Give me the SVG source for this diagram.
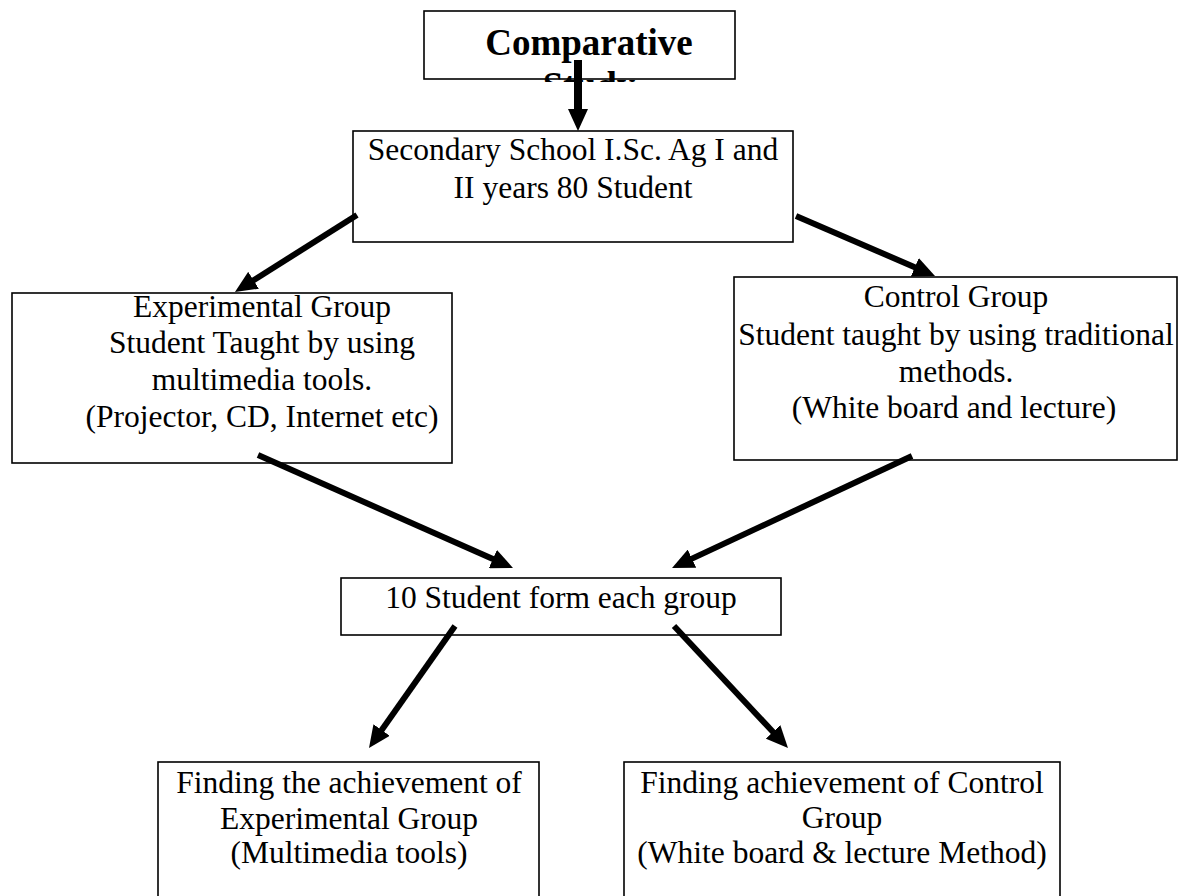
<svg xmlns="http://www.w3.org/2000/svg" width="1192" height="896" viewBox="0 0 1192 896">
<style>
.box{fill:#fff;stroke:#000;stroke-width:1.6}
.t{font-family:"Liberation Serif","Times New Roman",serif;font-size:31.5px;fill:#000;text-anchor:middle}
.tb{font-family:"Liberation Serif","Times New Roman",serif;font-size:37px;font-weight:bold;fill:#000;text-anchor:middle}
.c{stroke:#000;stroke-width:6;fill:none;marker-end:url(#ah)}
</style>
<defs>
<marker id="ah" viewBox="0 0 22 20" refX="10" refY="10" markerWidth="22" markerHeight="20" markerUnits="userSpaceOnUse" orient="auto">
<path d="M0,0 L22,10 L0,20 z" fill="#000"/>
</marker>
<clipPath id="clipStudy"><rect x="400" y="0" width="360" height="82"/></clipPath>
</defs>
<rect width="1192" height="896" fill="#fff"/>
<g id="node-comparative">
<rect class="box" x="424" y="11" width="311" height="68"/>
<text class="tb" x="589" y="55">Comparative</text>
<text class="tb" x="589" y="98" clip-path="url(#clipStudy)">Study</text>
</g>
<g id="node-secondary">
<rect class="box" x="353" y="131" width="440" height="111"/>
<text class="t" x="573" y="160">Secondary School I.Sc. Ag I and</text>
<text class="t" x="573" y="198">II years 80 Student</text>
</g>
<g id="node-experimental">
<rect class="box" x="12" y="293" width="440" height="170"/>
<text class="t" x="262" y="317">Experimental Group</text>
<text class="t" x="262" y="353">Student Taught by using</text>
<text class="t" x="262" y="390">multimedia tools.</text>
<text class="t" x="262" y="427">(Projector, CD, Internet etc)</text>
</g>
<g id="node-control">
<rect class="box" x="734" y="277" width="443" height="183"/>
<text class="t" x="956" y="307">Control Group</text>
<text class="t" x="956" y="345">Student taught by using traditional</text>
<text class="t" x="956" y="382">methods.</text>
<text class="t" x="954" y="418">(White board and lecture)</text>
</g>
<g id="node-ten">
<rect class="box" x="341" y="578" width="440" height="57"/>
<text class="t" x="561" y="608">10 Student form each group</text>
</g>
<g id="node-find-exp">
<rect class="box" x="158" y="762" width="381" height="150"/>
<text class="t" x="349" y="793">Finding the achievement of</text>
<text class="t" x="349" y="829">Experimental Group</text>
<text class="t" x="349" y="863">(Multimedia tools)</text>
</g>
<g id="node-find-ctrl">
<rect class="box" x="624" y="762" width="436" height="150"/>
<text class="t" x="842" y="793">Finding achievement of Control</text>
<text class="t" x="842" y="828">Group</text>
<text class="t" x="842" y="863">(White board &amp; lecture Method)</text>
</g>
<g id="connectors">
<line class="c" style="stroke-width:8" x1="578" y1="60" x2="578" y2="119"/>
<line class="c" x1="357" y1="215" x2="245.1" y2="285.6"/>
<line class="c" x1="796" y1="216" x2="924" y2="271.2"/>
<line class="c" x1="258" y1="455" x2="502" y2="563.1"/>
<line class="c" x1="912" y1="456" x2="682.9" y2="562.9"/>
<line class="c" x1="455" y1="626" x2="375.9" y2="738.2"/>
<line class="c" x1="674" y1="626" x2="779.8" y2="739.2"/>
</g>
</svg>
